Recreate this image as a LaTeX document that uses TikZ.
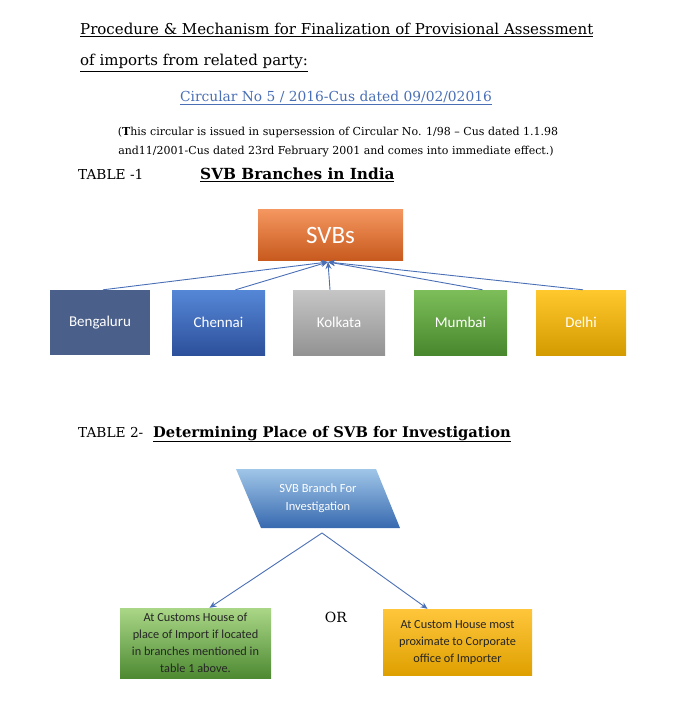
\documentclass[tikz,border=0pt]{standalone}
\usepackage{fontspec}
\setmainfont{DejaVu Serif}
\newfontfamily\calfont{Carlito}
\usetikzlibrary{arrows.meta,shapes.geometric}
\definecolor{arr}{HTML}{4A6FB5}
\tikzset{
 cbox/.style={draw=none,minimum height=65pt,inner sep=0pt,text=white,font=\calfont\fontsize{15}{18}\selectfont},
 con/.style={arr,line width=0.9pt,-{Stealth[length=7pt,width=6pt]}},
 tbox/.style={inner sep=0pt,align=center,font=\calfont\fontsize{12.3}{17}\selectfont,text=black!85},
 txt/.style={inner sep=0pt}
}
\begin{document}
\begin{tikzpicture}[x=1pt,y=-1pt]
\useasboundingbox (0,0) rectangle (675,703);
\node[txt,anchor=base west,font=\fontsize{15}{16}\selectfont] (t1) at (80,35) {\underline{Procedure \& Mechanism for Finalization of Provisional Assessment}};
\node[txt,anchor=base west,font=\fontsize{15}{16}\selectfont] (t2) at (80,66) {\underline{of imports from related party:}};
\node[txt,anchor=base,font=\fontsize{13.8}{14}\selectfont,text=arr] (circ) at (336,102) {\underline{Circular No 5 / 2016-Cus dated 09/02/02016}};
\node[txt,anchor=base,font=\fontsize{11}{12}\selectfont] (p1) at (338,136) {(\textbf{T}his circular is issued in supersession of Circular No. 1/98 -- Cus dated 1.1.98};
\node[txt,anchor=base,font=\fontsize{11}{12}\selectfont] (p2) at (336,155) {and11/2001-Cus dated 23rd February 2001 and comes into immediate effect.)};
\node[txt,anchor=base west,font=\fontsize{13.7}{15}\selectfont] (tab1) at (78,180) {TABLE -1};
\node[txt,anchor=base west,font=\bfseries\fontsize{15.3}{15}\selectfont] (tab1b) at (200,180) {\underline{SVB Branches in India}};
\node[cbox,minimum width=145pt,minimum height=50pt,top color={rgb,255:red,244;green,150;blue,95},bottom color={rgb,255:red,200;green,90;blue,30},font=\calfont\fontsize{25}{28}\selectfont] (svb) at (330.5,235) {SVBs};
\node[cbox,minimum width=100pt,fill={rgb,255:red,74;green,95;blue,138}] (b1) at (100,322.5) {Bengaluru};
\node[cbox,minimum width=93pt,top color={rgb,255:red,85;green,135;blue,215},bottom color={rgb,255:red,45;green,80;blue,155}] (b2) at (218.5,322.5) {Chennai};
\node[cbox,minimum width=92pt,top color=gray!45,bottom color=gray!85] (b3) at (339,322.5) {Kolkata};
\node[cbox,minimum width=93pt,top color={rgb,255:red,125;green,190;blue,90},bottom color={rgb,255:red,72;green,135;blue,45}] (b4) at (460.5,322.5) {Mumbai};
\node[cbox,minimum width=90pt,top color={rgb,255:red,255;green,200;blue,45},bottom color={rgb,255:red,212;green,155;blue,0}] (b5) at (581,322.5) {Delhi};
\coordinate (tip) at (328,262);
\draw[con] ([xshift=3pt]b1.north) -- (tip);
\draw[con] ([xshift=17pt]b2.north) -- (tip);
\draw[con] ([xshift=-9pt]b3.north) -- (tip);
\draw[con] ([xshift=22pt]b4.north) -- (tip);
\draw[con] ([xshift=2pt]b5.north) -- (tip);
\node[txt,anchor=base west,font=\fontsize{13.7}{15}\selectfont] (tab2) at (78,437) {TABLE 2-};
\node[txt,anchor=base west,font=\bfseries\fontsize{14.7}{15}\selectfont] (tab2b) at (153,437) {\underline{Determining Place of SVB for Investigation}};
\shade[top color={rgb,255:red,160;green,198;blue,232},bottom color={rgb,255:red,55;green,105;blue,175}] (236,469) -- (376,469) -- (400,528) -- (261,528) -- cycle;
\node[tbox,text=white,font=\calfont\fontsize{12.5}{18}\selectfont] (par) at (318,498) {SVB Branch For\\Investigation};
\coordinate (src) at (322,533);
\node[tbox,minimum width=151pt,minimum height=70pt,top color={rgb,255:red,170;green,215;blue,135},bottom color={rgb,255:red,78;green,138;blue,50}] (g) at (195.5,643) {At Customs House of\\place of Import if located\\in branches mentioned in\\table 1 above.};
\node[tbox,minimum width=149pt,minimum height=66pt,top color={rgb,255:red,255;green,198;blue,60},bottom color={rgb,255:red,222;green,160;blue,0}] (y) at (457.5,642) {At Custom House most\\proximate to Corporate\\office of Importer};
\draw[con] (src) -- ([xshift=14pt]g.north);
\draw[con] (src) -- ([xshift=-30pt]y.north);
\node[font=\fontsize{14}{15}\selectfont] (or) at (336,617) {OR};
\end{tikzpicture}
\end{document}
